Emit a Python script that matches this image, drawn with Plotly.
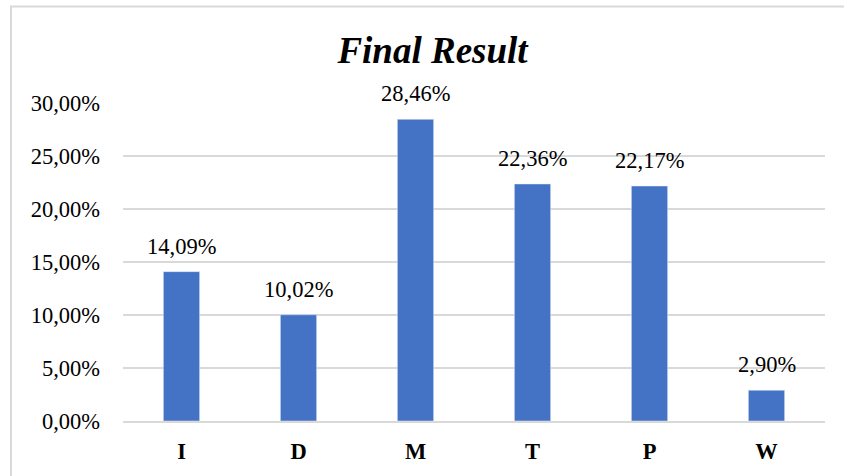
import plotly.graph_objects as go

categories = ["I", "D", "M", "T", "P", "W"]
values = [14.09, 10.02, 28.46, 22.36, 22.17, 2.90]
tick_vals = [0, 5, 10, 15, 20, 25, 30]

labels = [f"{v:.2f}%".replace(".", ",") for v in values]
tick_text = [f"{v:.2f}%".replace(".", ",") for v in tick_vals]

L, R, T, B = 123, 19, 103, 53
W, H = 844, 476
pw, ph = W - L - R, H - T - B
FS = 22.5

fig = go.Figure(go.Bar(
    x=categories, y=values,
    marker=dict(color="#4472C4"), cliponaxis=False, width=0.31,
))

for c, v, t in zip(categories, values, labels):
    fig.add_annotation(x=c, y=v, text=t, showarrow=False, yanchor="bottom",
                       yshift=11, font=dict(family="Liberation Serif", size=FS, color="#000000"))

fig.update_layout(
    width=W, height=H, margin=dict(l=L, r=R, t=T, b=B),
    paper_bgcolor="white", plot_bgcolor="white",
    showlegend=False,
    title=dict(text="<b><i>Final Result</i></b>", x=432.5 / W, xanchor="center",
               y=1 - 50 / H, yanchor="middle",
               font=dict(family="Liberation Serif", size=37, color="#000000")),
    xaxis=dict(tickfont=dict(family="Liberation Serif", size=FS, color="#000000"),
               tickprefix="<b>", ticksuffix="</b>", showline=True, linecolor="#d9d9d9",
               linewidth=2, ticks="", showgrid=False, ticklabelstandoff=9),
    yaxis=dict(range=[0, 30], tickmode="array", tickvals=tick_vals, ticktext=tick_text,
               tickfont=dict(family="Liberation Serif", size=FS, color="#000000"),
               showgrid=True, gridcolor="#d9d9d9", gridwidth=1.5, zeroline=False,
               ticklabelstandoff=22, showline=False),
)

fig.add_shape(type="rect", xref="paper", yref="paper",
              x0=(11 - L) / pw, x1=1.2, y0=-0.5, y1=(H - B - 6) / ph,
              line=dict(color="#d9d9d9", width=2), fillcolor="rgba(0,0,0,0)", layer="below")

fig.write_html("out.html")
